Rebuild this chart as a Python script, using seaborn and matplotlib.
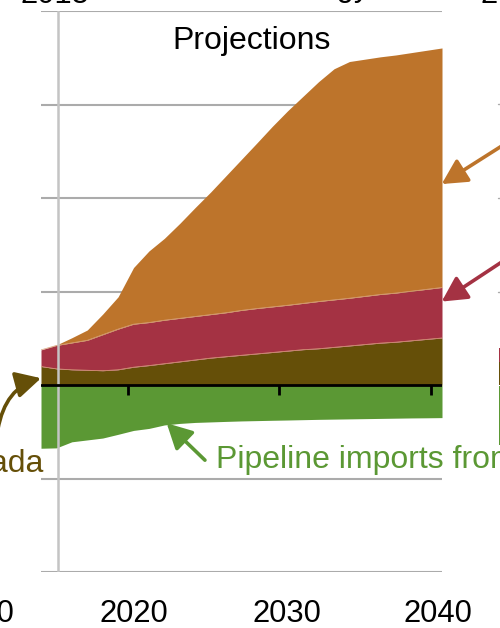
import matplotlib
matplotlib.use("Agg")
import matplotlib.pyplot as plt
from matplotlib.lines import Line2D
from matplotlib.patches import Rectangle
import seaborn as sns
import pandas as pd

# ---------------- data (net trade, stacked) ----------------
years = list(range(2014, 2041))
exports_canada = [0.40, 0.35, 0.33, 0.32, 0.31, 0.33, 0.385, 0.42, 0.46, 0.50, 0.54, 0.58, 0.61, 0.64,
                  0.67, 0.70, 0.73, 0.76, 0.78, 0.81, 0.84, 0.87, 0.90, 0.92, 0.95, 0.98, 1.01]
exports_mexico = [0.355, 0.50, 0.575, 0.64, 0.77, 0.87, 0.92, 0.92, 0.93, 0.93, 0.93, 0.93, 0.94, 0.96,
                  0.97, 0.975, 0.98, 0.99, 1.01, 1.015, 1.02, 1.03, 1.04, 1.05, 1.06, 1.07, 1.08]
lng_exports = [0.0, 0.01, 0.11, 0.22, 0.44, 0.69, 1.21, 1.53, 1.75, 2.03, 2.33, 2.62, 2.93, 3.23,
               3.54, 3.86, 4.16, 4.43, 4.70, 4.94, 5.06, 5.07, 5.08, 5.09, 5.10, 5.11, 5.12]
imports_canada = [-1.348, -1.34, -1.21, -1.17, -1.13, -1.05, -0.967, -0.924, -0.85, -0.817, -0.796,
                  -0.785, -0.774, -0.764, -0.757, -0.75, -0.744, -0.737, -0.73, -0.725, -0.72,
                  -0.715, -0.71, -0.705, -0.70, -0.697, -0.693]
yticks = [-4, -2, 0, 2, 4, 6, 8]
xtick_labels = ["2010", "2020", "2030", "2040"]
xtick_label_pos = [2010.03, 2020.03, 2029.95, 2039.74]
xtick_marks = [2019.63, 2029.46, 2039.26]
history_end = 2015.12

df = pd.DataFrame({"year": years, "canada": exports_canada, "mexico": exports_mexico,
                   "lng": lng_exports, "imports": imports_canada})
df["top_canada"] = df["canada"]
df["top_mexico"] = df["top_canada"] + df["mexico"]
df["top_lng"] = df["top_mexico"] + df["lng"]

C_ORANGE = "#BD742B"
C_RED = "#A43243"
C_BROWN = "#654F08"
C_GREEN = "#5B9834"
GRID = "#ABABAB"

sns.set_theme(style="white")
plt.rcParams["font.family"] = ["Liberation Sans", "DejaVu Sans"]

fig = plt.figure(figsize=(5.0, 6.28), dpi=100)
W, H = 500, 628
ax = fig.add_axes([41 / W, 1 - 572.3 / H, 401 / W, (572.3 - 11) / H])

ax.set_xlim(2014, 2040)
ax.set_ylim(-4, 8)
for s in ax.spines.values():
    s.set_visible(False)
ax.set_xticks([])
ax.set_yticks([])

# horizontal gridlines
for v in yticks:
    if v != 0:
        ax.axhline(v, color=GRID, lw=1.5, zorder=0)

# stacked areas
ax.stackplot(df["year"], df["canada"], df["mexico"], df["lng"],
             colors=[C_BROWN, C_RED, C_ORANGE], lw=0, zorder=2)
ax.fill_between(df["year"], df["imports"], 0, color=C_GREEN, lw=0, zorder=2)

# thin light boundaries between layers
for col in ["top_canada", "top_mexico"]:
    sns.lineplot(data=df, x="year", y=col, ax=ax, color="#D9A27E", lw=0.5,
                 legend=False, zorder=3)
ax.set_xlabel("")
ax.set_ylabel("")

# history / projection divider
ax.axvline(history_end, color="#C4C4C4", lw=1.8, zorder=4)

# zero line with tick marks
ax.axhline(0, color="black", lw=2.0, zorder=5)
ax.vlines(xtick_marks, -0.2, 0, color="black", lw=2.0, zorder=5)

# x labels
for lab, x in zip(xtick_labels, xtick_label_pos):
    ax.text(x, -5.057, lab, ha="center", va="baseline", fontsize=22.3,
            color="black", clip_on=False)

ax.text(2027.68, 7.187, "Projections", ha="center", va="baseline",
        fontsize=23, color="black")

# annotations
ax.text(2025.35, -1.769, "Pipeline imports from Canada", ha="left", va="baseline",
        fontsize=23, color=C_GREEN, clip_on=False)
ax.text(2014.13, -1.855, "Pipeline exports to Canada", ha="right", va="baseline",
        fontsize=23, color=C_BROWN, clip_on=False)

def arrow(tip, tail, color, cs="arc3"):
    ax.annotate("", xy=tip, xytext=tail, annotation_clip=False,
                arrowprops=dict(arrowstyle="-|>,head_length=0.95,head_width=0.5",
                                mutation_scale=16, lw=2.6, color=color,
                                shrinkA=0, shrinkB=0, connectionstyle=cs),
                zorder=6)

arrow((2039.98, 4.30), (2043.9, 5.12), C_ORANGE)
arrow((2039.98, 1.788), (2043.9, 2.64), C_RED)
arrow((2022.15, -0.813), (2024.63, -1.603), C_GREEN)
arrow((2014.0, 0.15), (2011.2, -0.95), C_BROWN, cs="angle3,angleA=80,angleB=15")

# fragments of neighbouring content cut by the frame
def fx(px):
    return px / W

def fy(py):
    return 1 - py / H

fig.text(fx(20), fy(3), "2015", ha="left", va="baseline", fontsize=22.3, color="black")
fig.text(fx(370), fy(-4), "Energy", ha="right", va="baseline", fontsize=22.3, color="black")
fig.text(fx(481), fy(3), "2040", ha="left", va="baseline", fontsize=22.3, color="black")
for py in [104, 198.3, 291.7]:
    fig.add_artist(Line2D([fx(498), fx(500)], [fy(py), fy(py)], color=GRID, lw=1.0))
fig.add_artist(Rectangle((fx(498.5), fy(362)), 1.5 / W, 14 / H, color=C_RED, lw=0))
fig.add_artist(Rectangle((fx(498.5), fy(385)), 1.5 / W, 23 / H, color=C_BROWN, lw=0))
fig.add_artist(Rectangle((fx(498.5), fy(445)), 1.5 / W, 59 / H, color=C_GREEN, lw=0))

fig.savefig("out.png", dpi=100)
